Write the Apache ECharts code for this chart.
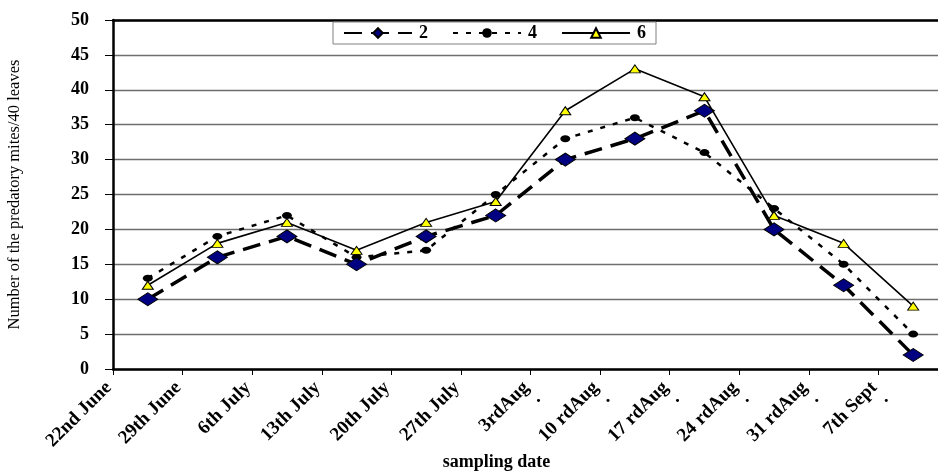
<!DOCTYPE html>
<html>
<head>
<meta charset="utf-8">
<script src="https://cdn.jsdelivr.net/npm/echarts@6/dist/echarts.min.js"></script>
<style>html,body{margin:0;padding:0;background:#fff;}#c{width:938px;height:474px;}</style>
</head>
<body>
<div id="c"></div>
<script>
const categories = ["22nd June","29th June","6th July","13th July","20th July","27th July","3rdAug .","10 rdAug .","17 rdAug .","24 rdAug .","31 rdAug .","7th Sept ."];
const seriesNames = ["2","4","6"];
const values2 = [10,16,19,15,19,22,30,33,37,20,12,2];
const values4 = [13,19,22,16,17,25,33,36,31,23,15,5];
const values6 = [12,18,21,17,21,24,37,43,39,22,18,9];
const yAxisTitle = "Number of the predatory mites/40 leaves";
const xAxisTitle = "sampling date";

const FONT = "Liberation Serif";
const toPts = arr => arr.map((v, i) => [i + 0.5, v]);

const chart = echarts.init(document.getElementById('c'), null, {renderer: 'canvas'});
chart.setOption({
  animation: false,
  backgroundColor: '#fff',
  grid: {left: 113, top: 20, bottom: 105, right: -10, containLabel: false, outerBoundsMode: 'none'},
  legend: {
    data: seriesNames,
    left: 333, top: 22,
    backgroundColor: '#fff',
    borderColor: '#808080', borderWidth: 1,
    padding: [2, 10, 2, 10],
    itemWidth: 68, itemHeight: 12, itemGap: 24,
    textStyle: {fontFamily: FONT, fontWeight: 'bold', fontSize: 18, color: '#000', padding: [0, 0, 0, 2]}
  },
  xAxis: [{
    type: 'value', min: 0, max: 12, interval: 1,
    name: xAxisTitle, nameLocation: 'middle', nameGap: 84, nameMoveOverlap: false,
    nameTextStyle: {fontFamily: FONT, fontWeight: 'bold', fontSize: 18, color: '#000', padding: [0, 68, 0, 0]},
    axisLine: {show: true, lineStyle: {color: '#000', width: 2.5}},
    axisTick: {show: true, length: 6, lineStyle: {color: '#000', width: 1}},
    splitLine: {show: false},
    axisLabel: {
      rotate: 45, margin: 20,
      fontFamily: FONT, fontWeight: 'bold', fontSize: 19, color: '#000',
      formatter: function (v) {
        const idx = Math.round(v);
        if (Math.abs(v - idx) > 1e-6 || idx < 0 || idx >= categories.length) return '';
        const t = categories[idx];
        if (t.endsWith(' .')) return '{a|' + t.slice(0, -2) + '}\n{p|.}';
        return '{a|' + t + '}\n{p| }';
      },
      rich: {
        a: {fontFamily: FONT, fontWeight: 'bold', fontSize: 19, color: '#000', lineHeight: 20},
        p: {fontFamily: FONT, fontWeight: 'bold', fontSize: 19, color: '#000', lineHeight: 12}
      }
    }
  }, {
    type: 'value', min: 0, max: 12, position: 'top',
    axisLine: {show: true, lineStyle: {color: '#000', width: 2.5}},
    axisTick: {show: false}, axisLabel: {show: false}, splitLine: {show: false}
  }],
  yAxis: {
    type: 'value', min: 0, max: 50, interval: 5,
    name: yAxisTitle, nameLocation: 'middle', nameGap: 90,
    nameTextStyle: {fontFamily: FONT, fontSize: 16.5, color: '#000'},
    axisLine: {show: true, lineStyle: {color: '#000', width: 2.5}},
    axisTick: {show: true, length: 8, lineStyle: {color: '#000', width: 1}},
    splitLine: {show: true, lineStyle: {color: '#6e6e6e', width: 1.3}},
    axisLabel: {margin: 24, fontFamily: FONT, fontWeight: 'bold', fontSize: 18, color: '#000'}
  },
  series: [{
    name: seriesNames[0], type: 'line', data: toPts(values2),
    symbol: 'diamond', symbolSize: [20, 13],
    lineStyle: {color: '#000', width: 3.5, type: [18, 9]},
    itemStyle: {color: '#000080', borderColor: '#000', borderWidth: 1},
    z: 3
  }, {
    name: seriesNames[1], type: 'line', data: toPts(values4),
    symbol: 'circle', symbolSize: [10, 7],
    lineStyle: {color: '#000', width: 2.5, type: [5, 8]},
    itemStyle: {color: '#000', borderColor: '#000', borderWidth: 0},
    z: 2
  }, {
    name: seriesNames[2], type: 'line', data: toPts(values6),
    symbol: 'triangle', symbolSize: [11, 8],
    lineStyle: {color: '#000', width: 1.6, type: 'solid'},
    itemStyle: {color: '#ffff00', borderColor: '#000', borderWidth: 1},
    z: 4
  }]
});
</script>
</body>
</html>
